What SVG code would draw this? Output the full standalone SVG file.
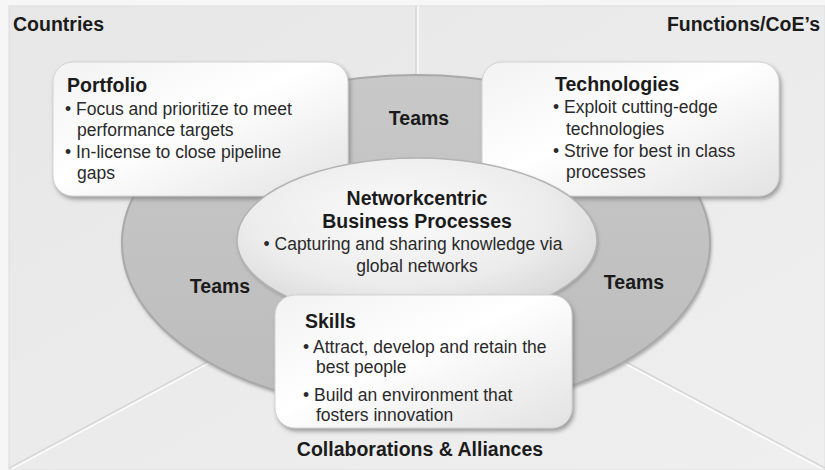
<svg xmlns="http://www.w3.org/2000/svg" width="825" height="470" viewBox="0 0 825 470">
  <defs>
    <linearGradient id="bg" x1="0" y1="0" x2="1" y2="1">
      <stop offset="0" stop-color="#e7e7e7"/>
      <stop offset="1" stop-color="#efefef"/>
    </linearGradient>
    <linearGradient id="ring" x1="0" y1="0" x2="0" y2="1">
      <stop offset="0" stop-color="#c8c8c8"/>
      <stop offset="1" stop-color="#bcbcbc"/>
    </linearGradient>
    <radialGradient id="hub" cx="0.45" cy="0.35" r="0.7">
      <stop offset="0" stop-color="#fbfbfb"/>
      <stop offset="0.6" stop-color="#ececec"/>
      <stop offset="1" stop-color="#d4d4d4"/>
    </radialGradient>
    <linearGradient id="card" x1="0" y1="0" x2="1" y2="1">
      <stop offset="0" stop-color="#f2f2f2"/>
      <stop offset="0.45" stop-color="#ffffff"/>
      <stop offset="1" stop-color="#e2e2e2"/>
    </linearGradient>
    <filter id="shadow" x="-10%" y="-10%" width="125%" height="130%">
      <feDropShadow dx="2" dy="3" stdDeviation="2" flood-color="#7a7a7a" flood-opacity="0.7"/>
    </filter>
    <filter id="soft" x="-10%" y="-10%" width="125%" height="130%">
      <feDropShadow dx="1" dy="2" stdDeviation="1.5" flood-color="#8a8a8a" flood-opacity="0.6"/>
    </filter>
  </defs>
  <style>
    text { font-family: "Liberation Sans", Arial, sans-serif; fill: #222; }
    .head { font-size: 19.5px; font-weight: bold; fill: #1b1b1b; }
    .label { font-size: 19.5px; font-weight: bold; fill: #1b1b1b; }
    .body { font-size: 17.5px; fill: #2a2a2a; }
    .card { fill: url(#card); stroke: #d2d2d2; stroke-width: 1; filter: url(#shadow); }
    .div-dark { stroke: #d3d3d3; stroke-width: 1.2; fill: none; }
    .div-light { stroke: #ffffff; stroke-width: 1.2; fill: none; }
  </style>

  <!-- backdrop panel -->
  <rect x="0" y="0" width="825" height="470" fill="#f6f6f6"/>
  <rect x="9" y="6" width="816" height="464" fill="url(#bg)" stroke="#dedede" stroke-width="1"/>

  <!-- sector dividers -->
  <g id="dividers">
    <line class="div-dark" x1="416" y1="6" x2="416" y2="250"/>
    <line class="div-light" x1="418" y1="6" x2="418" y2="250"/>
    <line class="div-dark" x1="416" y1="250" x2="9" y2="468"/>
    <line class="div-light" x1="416" y1="252" x2="12" y2="469"/>
    <line class="div-dark" x1="416" y1="250" x2="825" y2="468"/>
    <line class="div-light" x1="416" y1="252" x2="822" y2="469"/>
  </g>

  <!-- region labels -->
  <text class="label" x="13" y="31">Countries</text>
  <text class="label" x="820" y="31" text-anchor="end">Functions/CoE’s</text>
  <text class="label" x="420" y="456" text-anchor="middle">Collaborations &amp; Alliances</text>

  <!-- teams ring -->
  <g id="teams-ring">
    <ellipse cx="416" cy="243" rx="294" ry="168" fill="url(#ring)" stroke="#a9a9a9" stroke-width="2" filter="url(#soft)"/>
    <text class="label" x="419" y="125" text-anchor="middle">Teams</text>
    <text class="label" x="220" y="293" text-anchor="middle">Teams</text>
    <text class="label" x="634" y="289" text-anchor="middle">Teams</text>
  </g>

  <!-- Portfolio -->
  <g id="portfolio">
    <rect class="card" x="53" y="62" width="295" height="134" rx="20" ry="20"/>
    <text class="head" x="67" y="92">Portfolio</text>
    <text class="body" x="65" y="115">• Focus and prioritize to meet</text>
    <text class="body" x="77" y="136">performance targets</text>
    <text class="body" x="65" y="158">• In-license to close pipeline</text>
    <text class="body" x="77" y="179">gaps</text>
  </g>

  <!-- Technologies -->
  <g id="technologies">
    <rect class="card" x="482" y="62" width="297" height="134" rx="20" ry="20"/>
    <text class="head" x="555" y="91">Technologies</text>
    <text class="body" x="553" y="113">• Exploit cutting-edge</text>
    <text class="body" x="566" y="135">technologies</text>
    <text class="body" x="553" y="157">• Strive for best in class</text>
    <text class="body" x="566" y="178">processes</text>
  </g>

  <!-- Networkcentric hub -->
  <g id="hub-node">
    <ellipse cx="417" cy="240" rx="180" ry="82" fill="url(#hub)" stroke="#b4b4b4" stroke-width="1.5" filter="url(#soft)"/>
    <text class="head" x="417" y="205" text-anchor="middle">Networkcentric</text>
    <text class="head" x="417" y="228" text-anchor="middle">Business Processes</text>
    <text class="body" x="413" y="250" text-anchor="middle">• Capturing and sharing knowledge via</text>
    <text class="body" x="417" y="272" text-anchor="middle">global networks</text>
  </g>

  <!-- Skills -->
  <g id="skills">
    <rect class="card" x="275" y="295" width="297" height="133" rx="20" ry="20"/>
    <text class="head" x="305" y="328">Skills</text>
    <text class="body" x="303" y="353">• Attract, develop and retain the</text>
    <text class="body" x="316" y="373">best people</text>
    <text class="body" x="303" y="401">• Build an environment that</text>
    <text class="body" x="316" y="421">fosters innovation</text>
  </g>
</svg>
